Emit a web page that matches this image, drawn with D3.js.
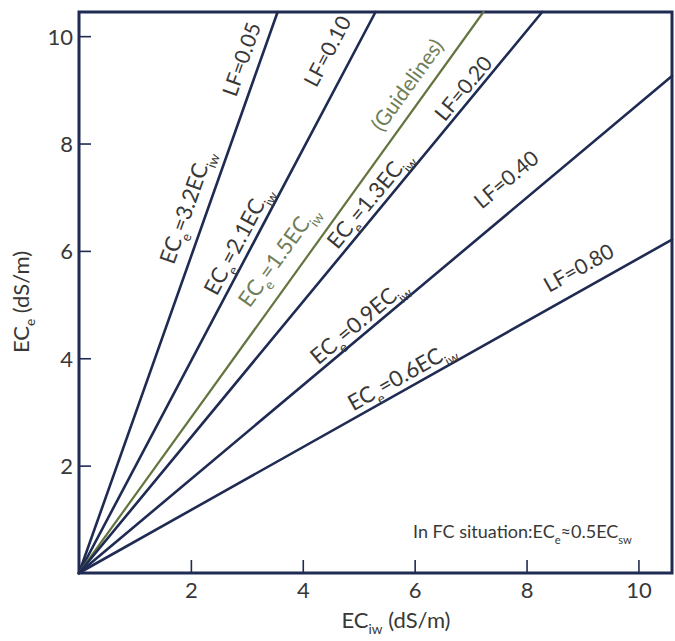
<!DOCTYPE html>
<html>
<head>
<meta charset="utf-8">
<script src="https://cdn.jsdelivr.net/npm/d3@7"></script>
<style>
  html, body { margin: 0; padding: 0; background: #fff; }
  svg { display: block; font-family: Lato, "Open Sans", sans-serif; }
</style>
</head>
<body>
<svg id="chart" width="675" height="641"></svg>
<script>
// ---- data ----
const lfLabels    = ["LF=0.05", "LF=0.10", "(Guidelines)", "LF=0.20", "LF=0.40", "LF=0.80"];
const ratioLabels = ["3.2", "2.1", "1.5", "1.3", "0.9", "0.6"];
// end point of each straight line (all start at the origin), in data units
const endX = [3.55, 5.30, 7.23, 8.28, 10.6, 10.6];
const endY = [10.45, 10.45, 10.45, 10.45, 9.26, 6.21];
const isGuideline = [false, false, true, false, false, false];
const xTicks = [2, 4, 6, 8, 10];
const yTicks = [2, 4, 6, 8, 10];
const noteText = "In FC situation:EC";

// ---- layout ----
const L = 79, R = 672, T = 12, B = 573;
const navy = "#1f2b52", textCol = "#383838", green = "#65753f", greenText = "#6f7d58";
const fs = 22;

const svg = d3.select("#chart");
const x = d3.scaleLinear().domain([0, 10.6]).range([L, R]);
const y = d3.scaleLinear().domain([0, 10.45]).range([B, T]);

// axes (inward ticks)
const gx = svg.append("g").attr("transform", `translate(0,${B})`)
  .call(d3.axisBottom(x).tickValues(xTicks).tickFormat(d3.format("d")).tickSizeInner(-13).tickSizeOuter(0).tickPadding(9));
const gy = svg.append("g").attr("transform", `translate(${L},0)`)
  .call(d3.axisLeft(y).tickValues(yTicks).tickFormat(d3.format("d")).tickSizeInner(-12).tickSizeOuter(0).tickPadding(6));
[gx, gy].forEach(g => {
  g.select(".domain").remove();
  g.selectAll(".tick line").attr("stroke", navy).attr("stroke-width", 1.6);
  g.selectAll(".tick text").attr("fill", textCol).attr("font-size", fs).attr("font-family", "Lato, sans-serif");
});
gy.selectAll(".tick text").attr("dy", "0.36em");

// frame
svg.append("rect").attr("x", L).attr("y", T).attr("width", R - L).attr("height", B - T)
  .attr("fill", "none").attr("stroke", navy).attr("stroke-width", 3);

// lines
const idx = d3.range(endX.length);
svg.append("g").selectAll("line").data(idx).join("line")
  .attr("x1", x(0)).attr("y1", y(0))
  .attr("x2", i => x(endX[i])).attr("y2", i => y(endY[i]))
  .attr("stroke", i => isGuideline[i] ? green : navy)
  .attr("stroke-width", i => isGuideline[i] ? 2.2 : 2.6)
  .attr("stroke-linecap", "round");

// rich text helper: parts = [[text, isSub], ...]
function rich(sel, parts, size, shift = 0.32) {
  parts.forEach(([t, sub], k) => {
    const ts = sel.append("tspan").text(t);
    if (sub) ts.attr("font-size", size * 0.62).attr("dy", size * shift);
    else if (k > 0 && parts[k - 1][1]) ts.attr("dy", -size * shift);
  });
}

// label placement: fraction along line, perpendicular offset (px, toward upper-left)
const lfPos = [[0.905, 18], [0.91, 24], [0.85, 19], [0.85, 12], [0.75, 27], [0.86, 21]];
const eqPos = [[0.64, 21], [0.58, 15], [0.54, 24], [0.65, 14], [0.486, 13], [0.555, 14]];

function place(i, f, d, parts, color, size) {
  const x0 = x(0), y0 = y(0), x1 = x(endX[i]), y1 = y(endY[i]);
  const dx = x1 - x0, dy = y1 - y0, len = Math.hypot(dx, dy);
  const ux = dx / len, uy = dy / len;
  const nx = uy, ny = -ux;
  const px = x0 + f * dx + d * nx, py = y0 + f * dy + d * ny;
  const ang = Math.atan2(dy, dx) * 180 / Math.PI;
  const t = svg.append("text")
    .attr("transform", `translate(${px},${py}) rotate(${ang}) translate(0,${size * 0.35})`)
    .attr("text-anchor", "middle").attr("fill", color).attr("font-size", size);
  rich(t, parts, size);
}

idx.forEach(i => {
  const col = isGuideline[i] ? greenText : textCol;
  place(i, lfPos[i][0], lfPos[i][1], [[lfLabels[i], false]], col, 21);
  place(i, eqPos[i][0], eqPos[i][1], [["EC", false], ["e", true], ["=" + ratioLabels[i] + "EC", false], ["iw", true]], col, 22);
});

// note
const note = svg.append("text").attr("x", 413).attr("y", 538).attr("fill", textCol).attr("font-size", 18);
rich(note, [[noteText, false], ["e", true], ["≈0.5EC", false], ["sw", true]], 18);

// axis titles
const xt = svg.append("text").attr("x", 396).attr("y", 628).attr("text-anchor", "middle")
  .attr("fill", textCol).attr("font-size", 22);
rich(xt, [["EC", false], ["iw", true], [" (dS/m)", false]], 22, 0.25);
const yt = svg.append("text").attr("transform", "translate(29,302) rotate(-90)").attr("text-anchor", "middle")
  .attr("fill", textCol).attr("font-size", 22);
rich(yt, [["EC", false], ["e", true], [" (dS/m)", false]], 22, 0.25);
</script>
</body>
</html>
